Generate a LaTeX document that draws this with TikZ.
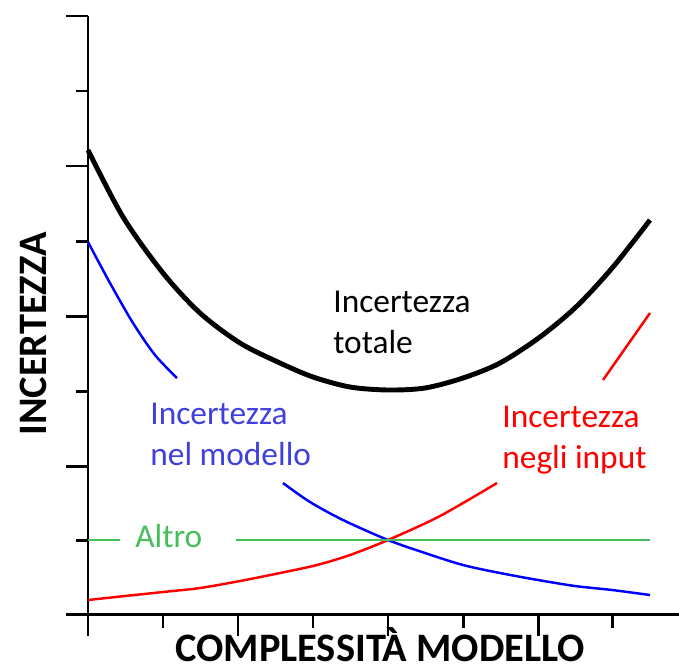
\documentclass[tikz,border=0pt]{standalone}
\usepackage{fontspec}
\setmainfont{Carlito}
\usepackage{tikz}
\usepackage{xcolor}
\definecolor{modblue}{RGB}{0,0,255}
\definecolor{modtxt}{RGB}{64,64,220}
\definecolor{altgreen}{RGB}{70,190,90}
\tikzset{
  axis/.style={black, line width=1.7pt},
  lbl/.style={font=\fontsize{19}{23.3}\selectfont, align=left, anchor=base west},
  axlbl/.style={font=\fontsize{23}{28}\selectfont\bfseries, anchor=base west}
}

\begin{document}
\begin{tikzpicture}[x=0.02cm, y=-0.02cm]
            \tikzstyle{every node}+=[inner sep=0pt]
            \useasboundingbox (0,0) rectangle (679,670);
            % axes
            \draw [axis] (88,16) -- (88,636);
            \draw [axis] (66,614) -- (679,614);
            \foreach \y in {16,166,316,466} \draw [axis] (66,\y) -- (88,\y);
            \foreach \y in {91,241,391,540} \draw [axis] (76,\y) -- (88,\y);
            \foreach \x in {238,388,538} \draw [axis] (\x,614) -- (\x,636);
            \foreach \x in {163,313,463,612} \draw [axis] (\x,614) -- (\x,628);
            \draw (33,334) node [axlbl, rotate=90, anchor=center] (yl) {INCERTEZZA};
            \draw (175,661) node [axlbl] (xl) {COMPLESSITÀ MODELLO};
            % totale
            \draw [black, line width=2.8pt] plot [smooth] coordinates {(88,150) (123,217) (163,273) (200,313) (240,343) (280,363) (313,377) (350,387) (388,390) (425,388) (463,378) (500,363) (540,337) (577,306) (613,267) (650,220)};
            \draw (333,353) node [lbl, black] (tot) {Incertezza\\totale};
            % modello
            \draw [modblue, line width=1.4pt] plot [smooth] coordinates {(88,242) (110,283) (133,323) (155,355) (177,378)};
            \draw [modblue, line width=1.4pt] plot [smooth] coordinates {(283,483) (310,502) (343,520) (388,540) (425,553) (463,565) (500,573) (538,580) (575,586) (612,590) (650,595)};
            \draw (150,465) node [lbl, modtxt] (mod) {Incertezza\\nel modello};
            % input
            \draw [red, line width=1.4pt] plot [smooth] coordinates {(88,600) (125,596) (163,592) (200,588) (240,581) (280,573) (317,565) (350,555) (388,540) (440,516) (497,483)};
            \draw [red, line width=1.4pt] (603,380) -- (650,313);
            \draw (502,468) node [lbl, red] (inp) {Incertezza\\negli input};
            % altro
            \draw (135,547) node [lbl, altgreen] (alt) {Altro};
            \draw [altgreen, line width=1.1pt] (88,540) -- (120,540);
            \draw [altgreen, line width=1.1pt] (236,540) -- (650,540);
        \end{tikzpicture}
\end{document}
